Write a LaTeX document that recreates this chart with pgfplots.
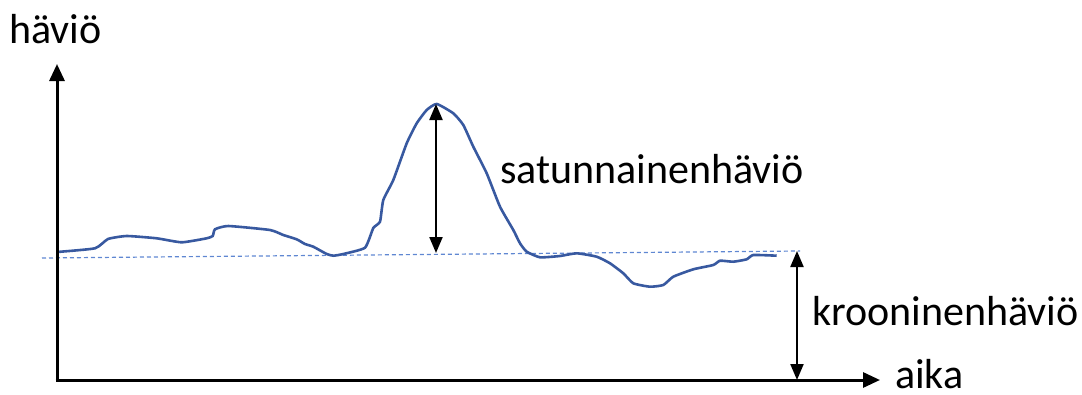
\documentclass[border=0pt]{standalone}
\usepackage{pgfplots}
\pgfplotsset{compat=1.18}
\usepackage{fontspec}
\setmainfont{Carlito}
\usetikzlibrary{arrows.meta}
\definecolor{curvecol}{RGB}{56,89,160}
\definecolor{dashcol}{RGB}{95,135,210}
\begin{document}
\begin{tikzpicture}
\begin{axis}[
  scale only axis, width=1082pt, height=394pt,
  xmin=0, xmax=1082, ymin=0, ymax=394, y dir=reverse,
  hide axis, clip=false]
\path (axis cs:0,0) rectangle (axis cs:1082,394);
% dashed baseline
\addplot[color=dashcol, line width=1.2pt, dash pattern=on 4pt off 3pt] coordinates {(42,258) (800,251)};
% loss curve
\addplot[color=curvecol, line width=2.6pt, smooth, tension=0.3] coordinates {
(57,252) (95,248.3) (108,239) (126.7,236) (156.7,238.3) (181.7,242.3)
(206.7,238.3) (212.7,236) (215,229.3) (228.3,226) (270,230) (283.3,235)
(296.7,239.3) (305,244) (313.3,246.7) (326.7,254) (333.3,255.7) (343.3,254)
(365,247.7) (373.3,228) (380,221.7) (383.3,200) (393.3,180) (406.7,143.3)
(416.7,123.3) (426.7,110) (436.7,104) (453.3,113.3) (463.3,125) (473.3,146.7)
(486.7,173.3) (500,206.7) (513.3,230) (520,243.3) (526.7,251.7) (540,257.3)
(560,256) (576.7,253.3) (596.7,256.7) (610,263.3) (623.3,273.3) (633.3,283.3)
(650,286.7) (663.3,285) (673.3,276.7) (693.3,269.3) (713.3,265) (720,260.7)
(733.3,261.7) (746.7,259.3) (753.3,255) (776.7,255.7)};
% axes
\draw[line width=3pt, -{Triangle[width=15pt,length=17pt]}] (axis cs:57,381.5) -- (axis cs:57,64);
\draw[line width=3pt, -{Triangle[width=15pt,length=17pt]}] (axis cs:55.5,380) -- (axis cs:880,380);
% double arrows
\draw[line width=2.1pt, {Triangle[width=13pt,length=16pt]}-{Triangle[width=13pt,length=16pt]}] (axis cs:436,104) -- (axis cs:436,253);
\draw[line width=2.1pt, {Triangle[width=13pt,length=16pt]}-{Triangle[width=13pt,length=16pt]}] (axis cs:797,251) -- (axis cs:797,380);
% labels
\node[anchor=base west, inner sep=0pt, font=\fontsize{42}{50}\selectfont] at (axis cs:9,43) {häviö};
\node[anchor=base west, inner sep=0pt, font=\fontsize{42}{50}\selectfont] at (axis cs:500,183) {satunnainenhäviö};
\node[anchor=base west, inner sep=0pt, font=\fontsize{42}{50}\selectfont] at (axis cs:812,325) {krooninenhäviö};
\node[anchor=base west, inner sep=0pt, text depth=0pt, font=\fontsize{42}{50}\selectfont] at (axis cs:895,388) {aika};
\end{axis}
\end{tikzpicture}
\end{document}
